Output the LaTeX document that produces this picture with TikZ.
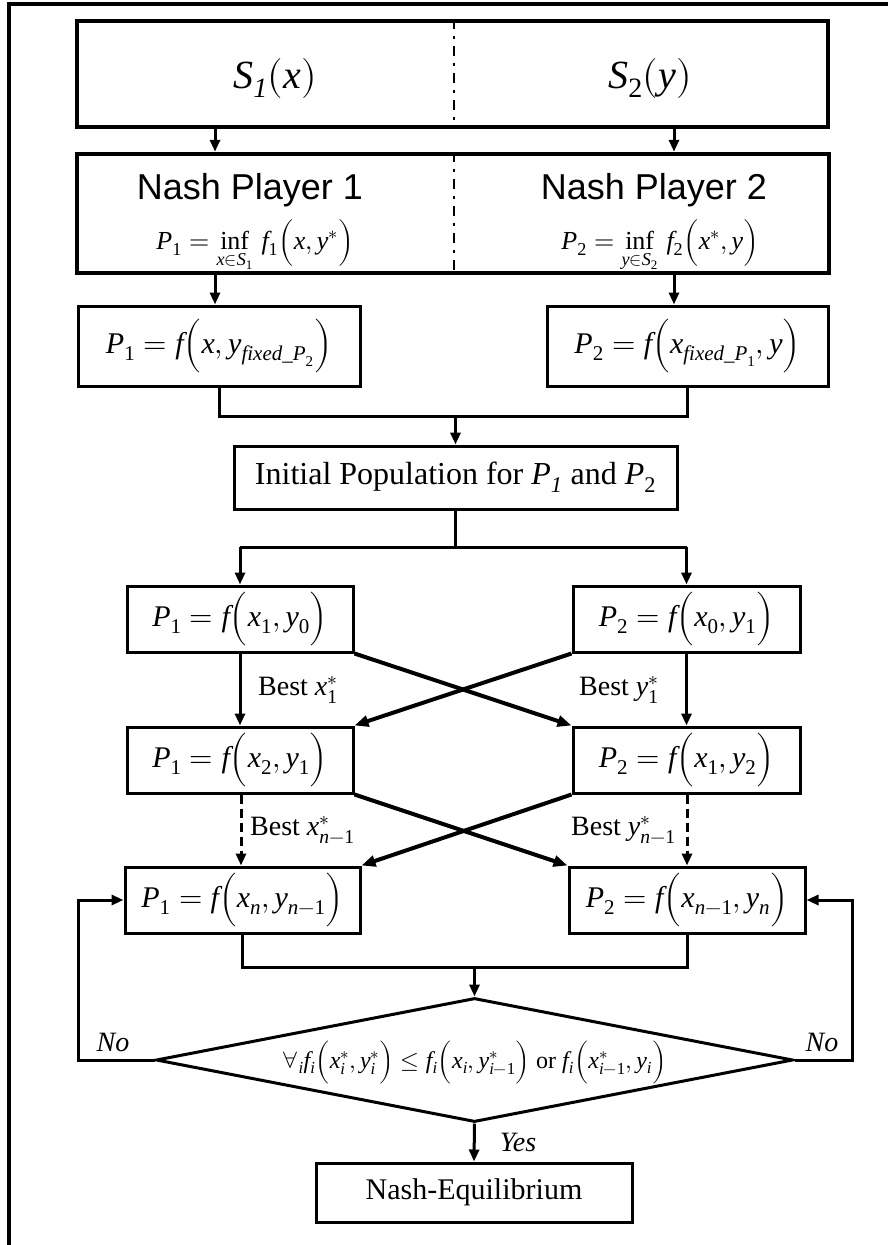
\documentclass[tikz,border=0pt]{standalone}
\usepackage{unicode-math}
\setmainfont{Liberation Serif}
\newfontfamily\sansfont{Liberation Sans}
\setmathfont{Latin Modern Math}
% Times-like letters and digits in formulas
\setmathfont{Liberation Serif Italic}[range={it/{latin,Latin}->up}]
\setmathfont{Liberation Serif}[range={up/num}]
\usetikzlibrary{arrows.meta,shapes.geometric,calc}

\begin{document}
\begin{tikzpicture}[x=1pt,y=-1pt,
  bigbox/.style={draw,line width=4.5pt,inner sep=0pt},
  box/.style={draw,line width=3pt,inner sep=0pt,font=\fontsize{30}{36}\selectfont},
  link/.style={line width=3pt},
  arr/.style={line width=3pt,-{Triangle[length=12pt,width=10pt]}},
  cross/.style={line width=4pt,-{Triangle[length=14pt,width=11pt]}},
  divider/.style={line width=2pt,dash pattern=on 10pt off 7pt on 3pt off 7pt},
  txt/.style={inner sep=0pt},
  lbl/.style={font=\fontsize{28}{34}\selectfont,inner sep=0pt},
  every node/.append style={text=black}
]
\useasboundingbox (0,0) rectangle (888,1245);

% page frame (top and left edges only)
\draw[line width=4pt] (9,1245) -- (9,3.5) -- (888,3.5);

% strategy sets and the two Nash players
\node[bigbox,minimum width=751pt,minimum height=106pt] (sbox) at (452.5,74) {};
\node[bigbox,minimum width=752pt,minimum height=119pt] (nbox) at (453,213.5) {};
\coordinate (dv) at (453.5,0);
\draw[divider] (sbox.north -| dv) -- (sbox.south -| dv);
\draw[divider] (nbox.north -| dv) -- (nbox.south -| dv);

\node[txt,font=\fontsize{40}{46}\selectfont] (s1) at (275,78) {$S_{\mathit{1}}(x)$};
\node[txt,font=\fontsize{40}{46}\selectfont] (s2) at (650,78) {$S_2(y)$};

\node[txt,anchor=base,font=\fontsize{36}{40}\selectfont\sansfont] (np1) at (250,199) {Nash Player 1};
\node[txt,anchor=base,font=\fontsize{36}{40}\selectfont\sansfont] (np2) at (654,199) {Nash Player 2};
\node[txt,anchor=base,font=\fontsize{26}{30}\selectfont] (f1) at (255,249)
  {$P_1=\inf\limits_{x\in S_1}\,f_1\Bigl(x,y^*\Bigr)$};
\node[txt,anchor=base,font=\fontsize{26}{30}\selectfont] (f2) at (660,249)
  {$P_2=\inf\limits_{y\in S_2}\,f_2\Bigl(x^*,y\Bigr)$};

% fixed-opponent objectives
\node[box,minimum width=282pt,minimum height=80pt] (p1a) at (219,346)
  {$P_1=f\Bigl(x,y_{\mathit{fixed}\_P_2}\Bigr)$};
\node[box,minimum width=281pt,minimum height=80pt] (p2a) at (687.5,346)
  {$P_2=f\Bigl(x_{\mathit{fixed}\_P_1},y\Bigr)$};

\node[box,minimum width=443pt,minimum height=63pt,font=\fontsize{32}{38}\selectfont] (init) at (455.5,477.5)
  {Initial Population for $P_{\mathit{1}}$ and $P_2$};

% iteration rows
\node[box,minimum width=226pt,minimum height=66pt] (r1a) at (240,619) {$P_1=f\Bigl(x_1,y_0\Bigr)$};
\node[box,minimum width=227pt,minimum height=66pt] (r1b) at (686.5,619) {$P_2=f\Bigl(x_0,y_1\Bigr)$};
\node[box,minimum width=226pt,minimum height=66pt] (r2a) at (240,760) {$P_1=f\Bigl(x_2,y_1\Bigr)$};
\node[box,minimum width=227pt,minimum height=66pt] (r2b) at (686.5,760) {$P_2=f\Bigl(x_1,y_2\Bigr)$};
\node[box,minimum width=235pt,minimum height=66pt] (r3a) at (242.5,900) {$P_1=f\Bigl(x_n,y_{n-1}\Bigr)$};
\node[box,minimum width=236pt,minimum height=66pt] (r3b) at (687,900) {$P_2=f\Bigl(x_{n-1},y_n\Bigr)$};

% convergence test and result
\node[draw,diamond,line width=3pt,inner sep=0pt,minimum width=637pt,minimum height=124pt] (test) at (474.5,1060) {};
\node[txt,font=\fontsize{24}{28}\selectfont] (cond) at (474.5,1062)
  {$\forall_i f_i\Bigl(x_i^*,y_i^*\Bigr)\le f_i\Bigl(x_i,y_{i-1}^*\Bigr)$ or $f_i\Bigl(x_{i-1}^*,y_i\Bigr)$};
\node[box,minimum width=316pt,minimum height=59pt] (ne) at (474,1192.5) {Nash-Equilibrium};

% helper columns and rows for the connectors
\coordinate (cl) at (215,0);
\coordinate (cr) at (674,0);
\coordinate (ml) at (241,0);
\coordinate (mr) at (687,0);
\coordinate (j1) at (0,416);
\coordinate (j2) at (0,547);
\coordinate (j3) at (0,967);
\coordinate (lx) at (78,0);
\coordinate (rx) at (852,0);

\draw[arr] (sbox.south -| cl) -- (nbox.north -| cl);
\draw[arr] (sbox.south -| cr) -- (nbox.north -| cr);
\draw[arr] (nbox.south -| cl) -- (p1a.north -| cl);
\draw[arr] (nbox.south -| cr) -- (p2a.north -| cr);

\draw[link] (p1a.south) -- (p1a.south |- j1) -- (p2a.south |- j1) -- (p2a.south);
\draw[arr] (init.north |- j1) -- (init.north);

\draw[link] (init.south) -- (init.south |- j2);
\draw[link] (r1a.north |- j2) -- (r1b.north |- j2);
\draw[arr] (r1a.north |- j2) -- (r1a.north);
\draw[arr] (r1b.north |- j2) -- (r1b.north);

\draw[arr] (r1a.south) -- (r2a.north);
\draw[arr] (r1b.south) -- (r2b.north);
\draw[cross] (r1a.south east) -- (r2b.north west);
\draw[cross] (r1b.south west) -- (r2a.north east);

\draw[arr,dashed,dash pattern=on 9pt off 5pt] (r2a.south -| ml) -- (r3a.north -| ml);
\draw[arr,dashed,dash pattern=on 9pt off 5pt] (r2b.south -| mr) -- (r3b.north -| mr);
\draw[cross] (r2a.south east) -- (r3b.north west);
\draw[cross] (r2b.south west) -- (r3a.north east);

\draw[link] (r3a.south) -- (r3a.south |- j3) -- (r3b.south |- j3) -- (r3b.south);
\draw[arr] (test.north |- j3) -- (test.north);

\draw[arr] (test.west) -- (test.west -| lx) -- (r3a.west -| lx) -- (r3a.west);
\draw[arr] (test.east) -- (test.east -| rx) -- (r3b.east -| rx) -- (r3b.east);
\draw[arr] (test.south) -- (ne.north);

% edge labels
\node[lbl,anchor=west] (b1) at (258,690) {Best $x_1^*$};
\node[lbl,anchor=west] (b2) at (579,690) {Best $y_1^*$};
\node[lbl,anchor=west] (b3) at (250,830) {Best $x_{n-1}^*$};
\node[lbl,anchor=west] (b4) at (571,830) {Best $y_{n-1}^*$};
\node[lbl,font=\fontsize{28}{34}\selectfont\itshape] (no1) at (113,1042) {No};
\node[lbl,font=\fontsize{28}{34}\selectfont\itshape] (no2) at (822,1042) {No};
\node[lbl,font=\fontsize{28}{34}\selectfont\itshape] (yes) at (518,1142) {Yes};
\end{tikzpicture}
\end{document}
